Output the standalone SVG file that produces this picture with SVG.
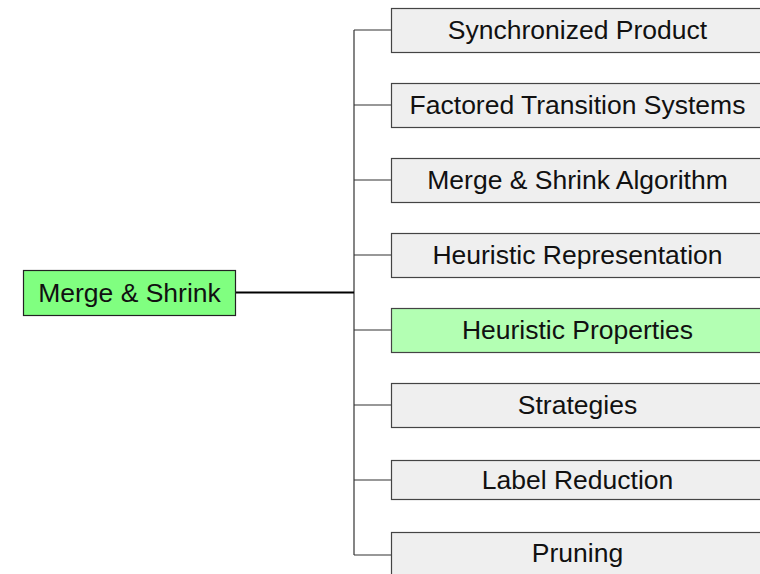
<svg xmlns="http://www.w3.org/2000/svg" width="760" height="574" viewBox="0 0 760 574">
  <style>
    .box { fill: #efefef; stroke: #444; stroke-width: 1.2; }
    .hl { fill: #b3ffb3; }
    .root { fill: #80ff80; stroke: #222; stroke-width: 1.2; }
    .lbl { font-family: "Liberation Sans", Arial, sans-serif; font-size: 26.5px; fill: #111; text-anchor: middle; }
    .branch { fill: none; stroke: #333; stroke-width: 1.2; }
    .main { fill: none; stroke: #000; stroke-width: 2; }
  </style>
  <rect width="760" height="574" fill="#fff"/>

  <g id="connectors">
    <path class="branch" d="M354,30 V555"/>
    <path class="branch" d="M354,30 H391 M354,105 H391 M354,180 H391 M354,255 H391 M354,330 H391 M354,405 H391 M354,480 H391 M354,555 H391"/>
    <path class="main" d="M236,292.5 H354"/>
  </g>

  <g id="root">
    <rect class="root" x="23.5" y="270.5" width="212" height="45"/>
    <text class="lbl" x="129.5" y="302">Merge &amp; Shrink</text>
  </g>

  <g id="synchronized-product">
    <rect class="box" x="391.5" y="8.5" width="372" height="44"/>
    <text class="lbl" x="577.5" y="39">Synchronized Product</text>
  </g>
  <g id="factored-transition-systems">
    <rect class="box" x="391.5" y="83.5" width="372" height="44"/>
    <text class="lbl" x="577.5" y="114">Factored Transition Systems</text>
  </g>
  <g id="merge-shrink-algorithm">
    <rect class="box" x="391.5" y="158.5" width="372" height="44"/>
    <text class="lbl" x="577.5" y="189">Merge &amp; Shrink Algorithm</text>
  </g>
  <g id="heuristic-representation">
    <rect class="box" x="391.5" y="233.5" width="372" height="44"/>
    <text class="lbl" x="577.5" y="264">Heuristic Representation</text>
  </g>
  <g id="heuristic-properties">
    <rect class="box hl" x="391.5" y="308.5" width="372" height="44"/>
    <text class="lbl" x="577.5" y="339">Heuristic Properties</text>
  </g>
  <g id="strategies">
    <rect class="box" x="391.5" y="383.5" width="372" height="44"/>
    <text class="lbl" x="577.5" y="414">Strategies</text>
  </g>
  <g id="label-reduction">
    <rect class="box" x="391.5" y="460.5" width="372" height="39"/>
    <text class="lbl" x="577.5" y="489">Label Reduction</text>
  </g>
  <g id="pruning">
    <rect class="box" x="391.5" y="532.5" width="372" height="50"/>
    <text class="lbl" x="577.5" y="562">Pruning</text>
  </g>
</svg>
